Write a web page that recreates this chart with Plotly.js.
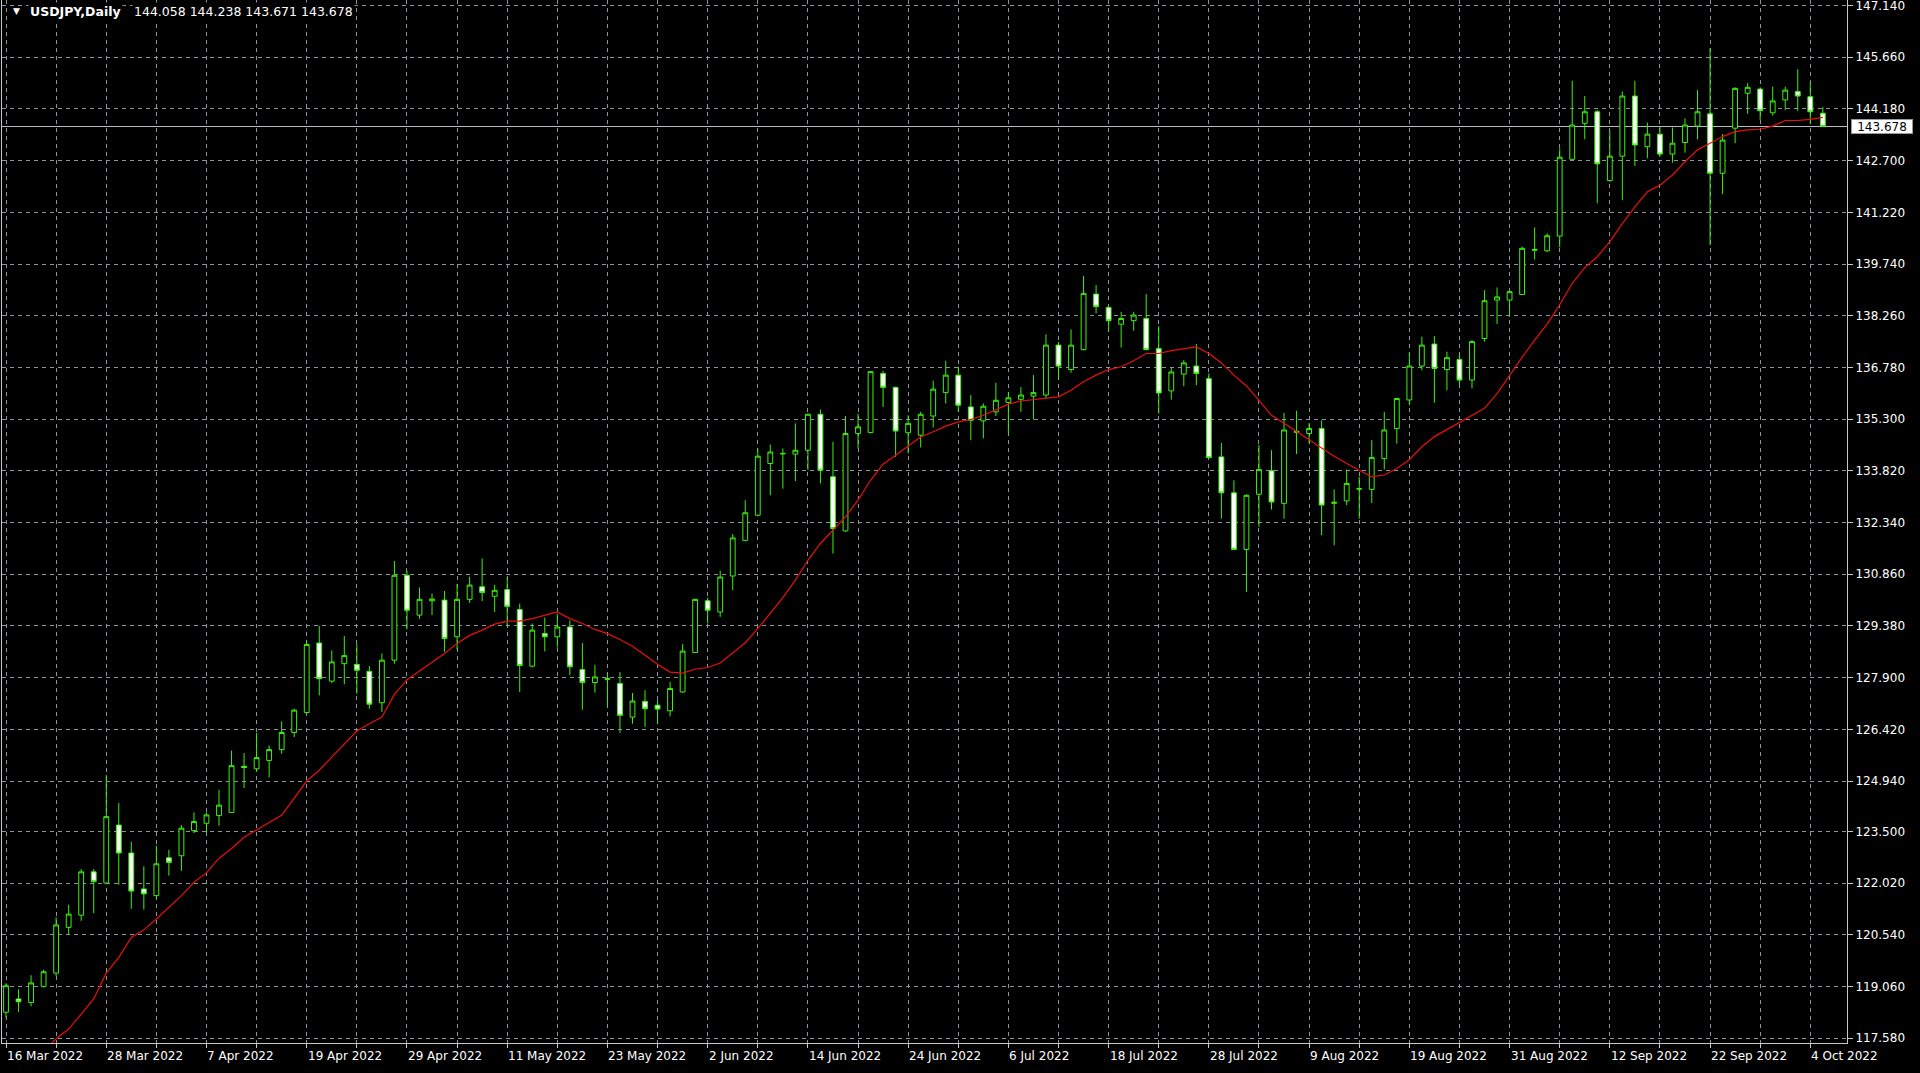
<!DOCTYPE html>
<html>
<head>
<meta charset="utf-8">
<script src="https://cdn.plot.ly/plotly-3.0.1.min.js"></script>
<style>
html,body{margin:0;padding:0;background:#000;}
#chart{width:1920px;height:1073px;}
</style>
</head>
<body>
<div id="chart"></div>
<script>
// ---- Data (USDJPY, Daily) ----
var symbolTitle = "USDJPY,Daily";
var lastBarText = "144.058 144.238 143.671 143.678";
var bidPrice = 143.678;

var openP = [118.32,118.70,118.60,119.06,119.44,120.75,121.10,122.34,122.02,123.68,
122.88,121.85,121.66,122.74,122.80,123.52,123.73,123.95,124.04,125.36,
125.29,125.53,125.84,126.33,126.90,128.89,127.80,128.30,128.28,128.08,
127.18,128.40,130.83,129.69,130.10,130.12,129.07,130.14,130.50,130.23,
130.42,129.85,128.23,129.16,129.07,129.35,128.13,127.76,127.85,127.73,
126.77,127.22,127.11,126.95,127.49,128.62,130.10,129.78,130.81,131.83,
132.55,134.03,134.32,134.30,134.41,135.44,133.65,132.10,134.89,134.92,
136.61,136.21,134.91,134.84,135.39,136.06,136.56,135.65,135.25,135.51,
135.78,135.87,135.96,135.99,137.42,136.72,137.29,138.88,138.50,138.02,
138.12,138.18,137.32,136.11,136.59,136.82,136.46,134.22,133.19,131.57,
133.15,133.82,132.89,134.92,134.89,135.03,132.89,132.96,133.31,133.29,
134.17,135.03,135.85,136.82,137.45,136.72,137.01,136.42,137.61,138.71,
138.71,138.87,140.16,140.12,140.54,142.74,143.77,144.10,142.13,142.83,
144.55,143.10,143.46,142.89,143.22,143.69,144.04,142.34,143.63,144.63,
144.75,144.07,144.44,144.68,144.53,144.058];

var highP = [119.15,118.98,119.38,119.54,121.04,121.40,122.42,122.42,125.11,124.31,
123.20,122.50,123.09,122.97,123.68,124.04,124.04,124.69,125.81,125.74,
126.32,125.96,126.65,127.01,128.94,129.38,128.68,129.09,128.86,128.23,
128.59,131.24,130.96,130.48,130.31,130.38,130.58,130.79,131.31,130.56,
130.78,130.02,129.45,129.62,129.73,129.54,128.89,128.27,128.03,128.06,
127.46,127.54,127.25,127.78,128.86,130.16,130.19,130.96,132.01,132.98,
134.46,134.57,134.46,135.18,135.46,135.58,134.65,135.39,135.46,136.68,
136.68,136.23,135.41,135.51,136.40,136.97,136.80,135.99,135.75,136.34,
136.08,136.22,136.56,137.73,137.51,137.87,139.40,139.14,138.52,138.37,
138.37,138.88,137.96,136.78,136.99,137.45,136.61,134.62,133.55,133.15,
134.56,134.41,135.48,135.54,135.19,135.27,133.29,133.86,133.65,134.70,
135.51,135.91,137.20,137.66,137.68,137.23,137.18,137.56,138.99,139.07,
138.99,140.24,140.79,140.62,143.05,144.99,144.55,144.15,143.56,144.68,
144.99,143.79,143.67,143.65,143.91,144.72,145.92,143.46,144.80,144.92,
144.80,144.82,144.82,145.32,144.96,144.238];

var lowP = [118.17,118.33,118.49,119.03,119.35,120.56,120.94,121.16,121.98,121.97,
121.28,121.26,121.56,122.23,122.37,123.45,123.47,123.66,124.04,124.74,
125.23,125.04,125.72,126.20,126.87,127.39,127.75,127.71,127.44,127.01,
126.92,128.30,129.28,129.59,129.69,128.64,128.70,130.04,130.09,129.78,
129.37,127.49,128.19,128.65,128.76,127.97,126.98,127.47,127.08,126.32,
126.58,126.49,126.58,126.79,127.47,128.61,129.45,129.64,130.40,131.80,
132.52,133.12,133.31,133.53,133.84,133.46,131.45,132.08,134.46,134.89,
135.65,134.22,134.32,134.49,135.06,135.75,135.51,134.70,134.75,135.39,
134.89,135.51,135.29,135.89,136.44,136.63,137.27,138.33,137.83,137.35,
137.83,137.27,135.46,135.86,136.24,136.27,134.18,132.45,131.55,130.35,
132.22,132.71,132.45,134.30,134.60,131.98,131.69,132.84,132.45,132.90,
133.86,134.60,135.70,136.70,135.77,136.13,136.25,136.18,137.52,138.02,
138.23,138.85,139.87,140.09,140.22,142.72,143.31,141.48,142.10,141.57,
142.55,142.77,142.81,142.64,142.93,143.31,140.28,141.74,143.20,144.04,
143.86,143.99,144.15,144.13,143.77,143.671];

var closeP = [119.08,118.62,119.16,119.48,120.82,121.13,122.34,122.06,123.92,122.88,
121.79,121.71,122.57,122.61,123.59,123.78,123.97,124.25,125.38,125.33,
125.61,125.84,126.33,126.97,128.85,127.87,128.35,128.53,128.11,127.14,
128.40,130.83,129.83,130.14,130.15,129.02,130.14,130.55,130.34,130.40,
129.94,128.25,129.26,129.07,129.35,128.21,127.76,127.92,127.87,126.82,
127.23,127.01,127.00,127.59,128.66,130.14,129.83,130.78,131.90,132.62,
134.24,134.36,134.31,134.41,135.44,133.84,132.17,134.89,135.08,136.66,
136.21,134.96,135.18,135.44,136.16,136.56,135.70,135.27,135.67,135.84,
135.91,135.99,136.06,137.42,136.82,137.42,138.90,138.52,138.12,138.18,
138.28,137.29,136.05,136.65,136.91,136.61,134.20,133.19,131.57,133.12,
133.86,132.93,134.99,134.95,135.03,132.84,132.92,133.46,133.30,134.20,
134.99,135.89,136.82,137.42,136.75,137.06,136.42,137.52,138.69,138.80,
138.95,140.19,140.14,140.55,142.80,143.72,144.10,142.61,142.83,144.55,
143.15,143.46,142.89,143.20,143.72,144.10,142.34,143.29,144.77,144.80,
144.13,144.41,144.72,144.55,144.10,143.678];

// moving average (red line)
var maP = [116.30,116.60,116.90,117.20,117.56,117.84,118.27,118.70,119.44,119.89,
120.46,120.68,120.99,121.32,121.66,122.04,122.31,122.73,123.01,123.33,
123.55,123.75,123.96,124.44,124.94,125.25,125.63,125.99,126.37,126.58,
126.77,127.42,127.84,128.09,128.35,128.59,128.88,129.11,129.26,129.43,
129.52,129.52,129.59,129.69,129.78,129.59,129.45,129.28,129.16,128.99,
128.80,128.54,128.28,128.06,128.03,128.14,128.19,128.32,128.60,128.90,
129.30,129.73,130.19,130.69,131.26,131.74,132.12,132.50,132.98,133.55,
134.01,134.27,134.53,134.79,134.94,135.10,135.22,135.29,135.41,135.56,
135.73,135.82,135.86,135.89,135.94,136.13,136.37,136.56,136.72,136.80,
136.97,137.18,137.18,137.26,137.32,137.37,137.18,136.91,136.56,136.25,
135.84,135.41,135.18,134.94,134.70,134.46,134.24,134.03,133.84,133.65,
133.70,133.89,134.14,134.51,134.80,135.00,135.20,135.39,135.61,136.03,
136.56,137.07,137.56,138.02,138.57,139.19,139.64,139.95,140.38,140.90,
141.38,141.81,142.00,142.29,142.67,143.01,143.20,143.39,143.53,143.58,
143.60,143.69,143.85,143.85,143.88,143.94];

// time axis labels (bar index -> date text)
var labelBars = [0,8,16,24,32,40,48,56,64,72,80,88,96,104,112,120,128,136,144];
var labelText = ["16 Mar 2022","28 Mar 2022","7 Apr 2022","19 Apr 2022","29 Apr 2022",
"11 May 2022","23 May 2022","2 Jun 2022","14 Jun 2022","24 Jun 2022","6 Jul 2022",
"18 Jul 2022","28 Jul 2022","9 Aug 2022","19 Aug 2022","31 Aug 2022","12 Sep 2022",
"22 Sep 2022","4 Oct 2022"];

// price axis labels
var priceTicks = [117.58,119.06,120.54,122.02,123.50,124.94,126.42,127.90,129.38,130.86,
132.34,133.82,135.30,136.78,138.26,139.74,141.22,142.70,144.18,145.66,147.14];
var priceTickText = ["117.580","119.060","120.540","122.020","123.500","124.940","126.420",
"127.900","129.380","130.860","132.340","133.820","135.300","136.780","138.260","139.740",
"141.220","142.700","144.180","145.660","147.140"];

// ---- build ----
var barIdx = openP.map(function(_, i){ return i; });
var gridBars = [];
for (var g = 0; g <= 144; g += 4) gridBars.push(g);

var GREEN = '#3df00f';
var GRID = '#8e949c';
var FONT = 'DejaVu Sans, Liberation Sans, sans-serif';

var candles = {
  type: 'candlestick',
  x: barIdx, open: openP, high: highP, low: lowP, close: closeP,
  increasing: {line: {color: GREEN, width: 1}, fillcolor: '#000000'},
  decreasing: {line: {color: GREEN, width: 1}, fillcolor: '#ffffff'},
  whiskerwidth: 0,
  hoverinfo: 'skip',
  showlegend: false
};
var ma = {
  type: 'scatter', mode: 'lines',
  x: barIdx, y: maP,
  line: {color: '#e8100c', width: 1.2},
  hoverinfo: 'skip', showlegend: false
};

var annotations = [];
labelBars.forEach(function(b, k){
  annotations.push({
    xref: 'x', yref: 'paper', x: b, y: 0,
    xanchor: 'left', yanchor: 'middle', xshift: -1, yshift: -13,
    text: labelText[k], showarrow: false,
    font: {family: FONT, size: 12, color: '#ffffff'}
  });
});
// header
annotations.push({
  xref: 'paper', yref: 'paper', x: 0, y: 1, xanchor: 'left', yanchor: 'middle',
  xshift: 9, yshift: -11, text: '▼', showarrow: false,
  font: {family: FONT, size: 9, color: '#ffffff'}
});
annotations.push({
  xref: 'paper', yref: 'paper', x: 0, y: 1, xanchor: 'left', yanchor: 'middle',
  xshift: 26, yshift: -11, text: symbolTitle, showarrow: false,
  bgcolor: '#000000', borderpad: 1,
  font: {family: FONT, size: 12.5, color: '#ffffff', weight: 'bold'}
});
annotations.push({
  xref: 'paper', yref: 'paper', x: 0, y: 1, xanchor: 'left', yanchor: 'middle',
  xshift: 130, yshift: -11, text: lastBarText, showarrow: false,
  bgcolor: '#000000', borderpad: 1,
  font: {family: FONT, size: 12.5, color: '#ffffff'}
});
// bid price box on the axis
annotations.push({
  xref: 'paper', yref: 'y', x: 1, y: bidPrice, xanchor: 'left', yanchor: 'middle',
  xshift: 4, text: bidPrice.toFixed(3), showarrow: false,
  bgcolor: '#ffffff', bordercolor: '#9a9a9a', borderwidth: 1, borderpad: 0,
  width: 60, height: 13,
  font: {family: FONT, size: 12, color: '#000000'}
});

var layout = {
  width: 1920, height: 1073,
  paper_bgcolor: '#000000', plot_bgcolor: '#000000',
  margin: {l: 2, r: 73, t: 0, b: 30},
  showlegend: false,
  boxgap: 0.45,
  xaxis: {
    type: 'linear', range: [-0.32, 146.93],
    tickmode: 'array', tickvals: gridBars, showticklabels: false,
    ticks: 'outside', ticklen: 4, tickcolor: '#c8c8c8', tickwidth: 1,
    showgrid: true, gridcolor: GRID, gridwidth: 1, griddash: '4px,4px',
    showline: true, linecolor: '#c8c8c8', linewidth: 1,
    zeroline: false, fixedrange: true,
    rangeslider: {visible: false}
  },
  yaxis: {
    side: 'right', range: [117.44, 147.30],
    tickmode: 'array', tickvals: priceTicks, ticktext: priceTickText,
    ticks: 'outside', ticklen: 5, tickcolor: '#c8c8c8', tickwidth: 1,
    ticklabeloverflow: 'allow',
    tickfont: {family: FONT, size: 12, color: '#ffffff'},
    showgrid: true, gridcolor: GRID, gridwidth: 1, griddash: '4px,4px',
    showline: true, mirror: true, linecolor: '#c8c8c8', linewidth: 1,
    zeroline: false, fixedrange: true
  },
  shapes: [{
    type: 'line', xref: 'paper', yref: 'y', x0: 0, x1: 1, y0: bidPrice, y1: bidPrice,
    line: {color: '#b8bcc4', width: 1}, layer: 'below'
  }],
  annotations: annotations
};

Plotly.newPlot('chart', [candles, ma], layout, {staticPlot: true, displayModeBar: false});
</script>
</body>
</html>
